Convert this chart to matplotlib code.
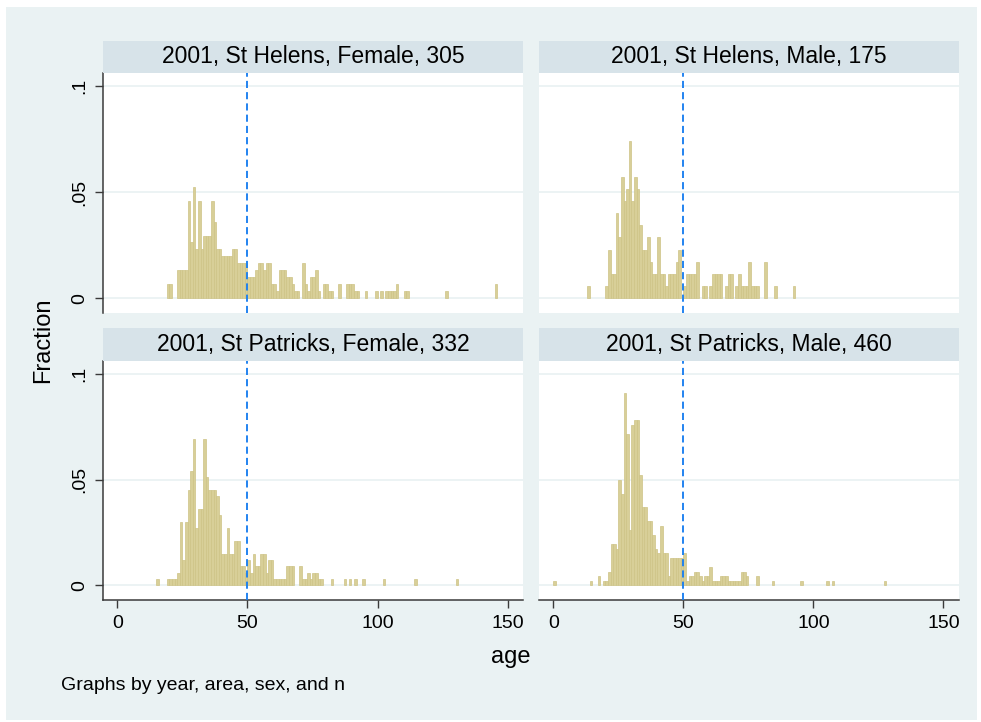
import numpy as np
import matplotlib
matplotlib.use('Agg')
import matplotlib.pyplot as plt
from matplotlib.patches import Rectangle

plt.rcParams['font.family'] = ['Liberation Sans', 'DejaVu Sans']

# ages (bin start, width 1) and counts
helens_f_age = [19, 20, 23, 24, 25, 26, 27, 28, 29, 30, 31, 32, 33, 34, 35, 36, 37, 38,
                39, 40, 41, 42, 43, 44, 45, 46, 47, 48, 49, 50, 51, 52, 53, 54, 55, 56,
                57, 58, 59, 60, 61, 62, 63, 64, 65, 66, 67, 68, 69, 71, 72, 73, 74, 75,
                76, 77, 79, 80, 81, 82, 85, 88, 89, 90, 91, 92, 95, 99, 101, 103, 104,
                105, 106, 107, 110, 111, 126, 145]
helens_f_cnt = [2, 2, 4, 4, 4, 4, 14, 8, 16, 7, 14, 7, 9, 9, 9, 14, 11, 7,
                7, 6, 6, 6, 6, 7, 7, 5, 5, 5, 5, 3, 3, 3, 4, 5, 5, 4,
                5, 5, 2, 2, 1, 4, 4, 4, 3, 3, 2, 1, 1, 5, 2, 1, 3, 3,
                4, 1, 2, 2, 1, 1, 2, 2, 2, 2, 1, 1, 1, 1, 1, 1, 1,
                1, 1, 2, 1, 1, 1, 2]

helens_m_age = [13, 20, 21, 22, 23, 24, 25, 26, 27, 28, 29, 30, 31, 32, 33, 34, 35, 36,
                37, 38, 39, 40, 41, 42, 43, 44, 45, 46, 47, 48, 50, 51, 52, 53, 54, 55,
                57, 58, 60, 61, 62, 63, 64, 66, 67, 68, 70, 71, 72, 73, 74, 75, 76, 77,
                78, 81, 85, 92]
helens_m_cnt = [1, 1, 4, 2, 2, 7, 5, 10, 8, 9, 13, 8, 10, 9, 6, 4, 4, 5,
                3, 2, 2, 5, 2, 2, 1, 2, 2, 2, 3, 4, 1, 2, 2, 2, 2, 3,
                1, 1, 1, 2, 2, 2, 2, 1, 2, 2, 1, 2, 1, 1, 1, 3, 1, 1,
                1, 3, 1, 1]

patricks_f_age = [15, 19, 20, 21, 22, 23, 24, 25, 26, 27, 28, 29, 30, 31, 32, 33, 34, 35,
                  36, 37, 38, 39, 40, 41, 42, 43, 44, 45, 46, 47, 48, 49, 50, 51, 52, 53,
                  54, 55, 56, 57, 58, 59, 60, 61, 62, 63, 64, 65, 66, 67, 70, 71, 72, 73,
                  74, 75, 76, 77, 78, 82, 87, 89, 91, 94, 102, 114, 130]
patricks_f_cnt = [1, 1, 1, 1, 1, 2, 10, 4, 10, 15, 18, 23, 9, 12, 12, 23, 17, 15,
                  15, 15, 14, 11, 5, 5, 9, 5, 5, 7, 7, 3, 3, 2, 4, 2, 5, 3,
                  3, 5, 5, 2, 4, 4, 1, 1, 1, 1, 1, 3, 3, 3, 3, 1, 1, 2,
                  1, 2, 2, 1, 1, 1, 1, 1, 1, 1, 1, 1, 1]

patricks_m_age = [0, 14, 17, 19, 20, 21, 22, 23, 24, 25, 26, 27, 28, 29, 30, 31, 32, 33,
                  34, 35, 36, 37, 38, 39, 40, 41, 42, 43, 44, 45, 46, 47, 48, 49, 50, 51,
                  52, 53, 54, 55, 56, 57, 58, 59, 60, 61, 62, 63, 64, 65, 66, 67, 68, 69,
                  70, 71, 72, 73, 74, 78, 84, 95, 105, 107, 127]
patricks_m_cnt = [1, 1, 2, 1, 1, 3, 9, 9, 8, 23, 20, 42, 33, 12, 35, 36, 36, 24,
                  17, 17, 14, 14, 11, 8, 7, 13, 7, 7, 2, 6, 6, 6, 6, 6, 7, 1,
                  2, 2, 3, 3, 2, 1, 2, 2, 4, 1, 1, 1, 2, 2, 2, 1, 1, 1,
                  1, 1, 3, 3, 2, 2, 1, 1, 1, 1, 1]

titles = ['2001, St Helens, Female, 305', '2001, St Helens, Male, 175',
          '2001, St Patricks, Female, 332', '2001, St Patricks, Male, 460']
group_n = [305, 175, 332, 460]
cutoff = 50
xticks = [0, 50, 100, 150]
yticks = [0, 0.05, 0.1]
ytick_labels = ['0', '.05', '.1']

W, H = 981, 722
BG = '#eaf2f3'
HDR = '#d7e3e9'
BAR = '#d8cf98'
BAR_EDGE = '#cdc386'
LINE = '#1a7ff0'
AXIS = '#3a3a3a'


def fig_rect(l, t, r, b):
    return [l / W, 1 - b / H, (r - l) / W, (b - t) / H]


fig = plt.figure(figsize=(W / 100, H / 100), dpi=100, facecolor='white')
fig.add_artist(Rectangle((6 / W, 1 - 720 / H), 971 / W, 713 / H, transform=fig.transFigure,
                         facecolor=BG, edgecolor='none', zorder=-10))

# panel boxes in pixels: (left, right), (header top, plot top, plot bottom)
cols = [(103.4, 523.4), (539.3, 959.3)]
rows = [(41, 72.7, 312.7), (328.3, 361, 600)]
data = [(helens_f_age, helens_f_cnt), (helens_m_age, helens_m_cnt),
        (patricks_f_age, patricks_f_cnt), (patricks_m_age, patricks_m_cnt)]

for i, (ages, cnts) in enumerate(data):
    r, c = divmod(i, 2)
    l, rr = cols[c]
    ht, pt, pb = rows[r]
    ax = fig.add_axes(fig_rect(l, pt, rr, pb))
    ax.set_facecolor('white')
    frac = np.array(cnts) / group_n[i]
    ax.bar(ages, frac, width=1, align='edge', color=BAR, edgecolor=BAR_EDGE,
           linewidth=0.5, zorder=2)
    ax.axvline(cutoff, color=LINE, lw=1.35, ls=(0, (3.8, 2.2)), zorder=3)
    ax.set_xlim(-5.4, 156.1)
    ax.set_ylim(-0.0069, 0.1063)
    ax.set_yticks(yticks)
    ax.set_yticklabels(ytick_labels)
    ax.set_xticks(xticks)
    ax.yaxis.grid(True, color=BG, lw=1.3)
    ax.set_axisbelow(True)
    for s in ax.spines.values():
        s.set_visible(False)
    if c == 0:
        ax.spines['left'].set_visible(True)
        ax.spines['left'].set_color(AXIS)
        ax.spines['left'].set_linewidth(1.1)
        ax.tick_params(axis='y', length=6, width=1, color=AXIS, pad=5,
                       labelsize=14, labelrotation=90)
        for t in ax.get_yticklabels():
            t.set_va('center')
    else:
        ax.tick_params(axis='y', left=False, labelleft=False)
    if r == 1:
        ax.spines['bottom'].set_visible(True)
        ax.spines['bottom'].set_color(AXIS)
        ax.spines['bottom'].set_linewidth(1.1)
        ax.tick_params(axis='x', length=6, width=1, color=AXIS, pad=5, labelsize=14)
    else:
        ax.tick_params(axis='x', bottom=False, labelbottom=False)

    fig.add_artist(Rectangle((l / W, 1 - pt / H), (rr - l) / W, (pt - ht) / H,
                             transform=fig.transFigure, facecolor=HDR, edgecolor='none'))
    fig.text((l + rr) / 2 / W, 1 - (ht + pt) / 2 / H, titles[i], ha='center',
             va='center', fontsize=16.5)

fig.text(43 / W, 1 - 340 / H, 'Fraction', rotation=90, ha='center', va='center', fontsize=17)
fig.text(511 / W, 1 - 657 / H, 'age', ha='center', va='center', fontsize=17)
fig.text(61 / W, 1 - 686 / H, 'Graphs by year, area, sex, and n', ha='left',
         va='center', fontsize=14)

fig.savefig('out.png', dpi=100, facecolor='white')
